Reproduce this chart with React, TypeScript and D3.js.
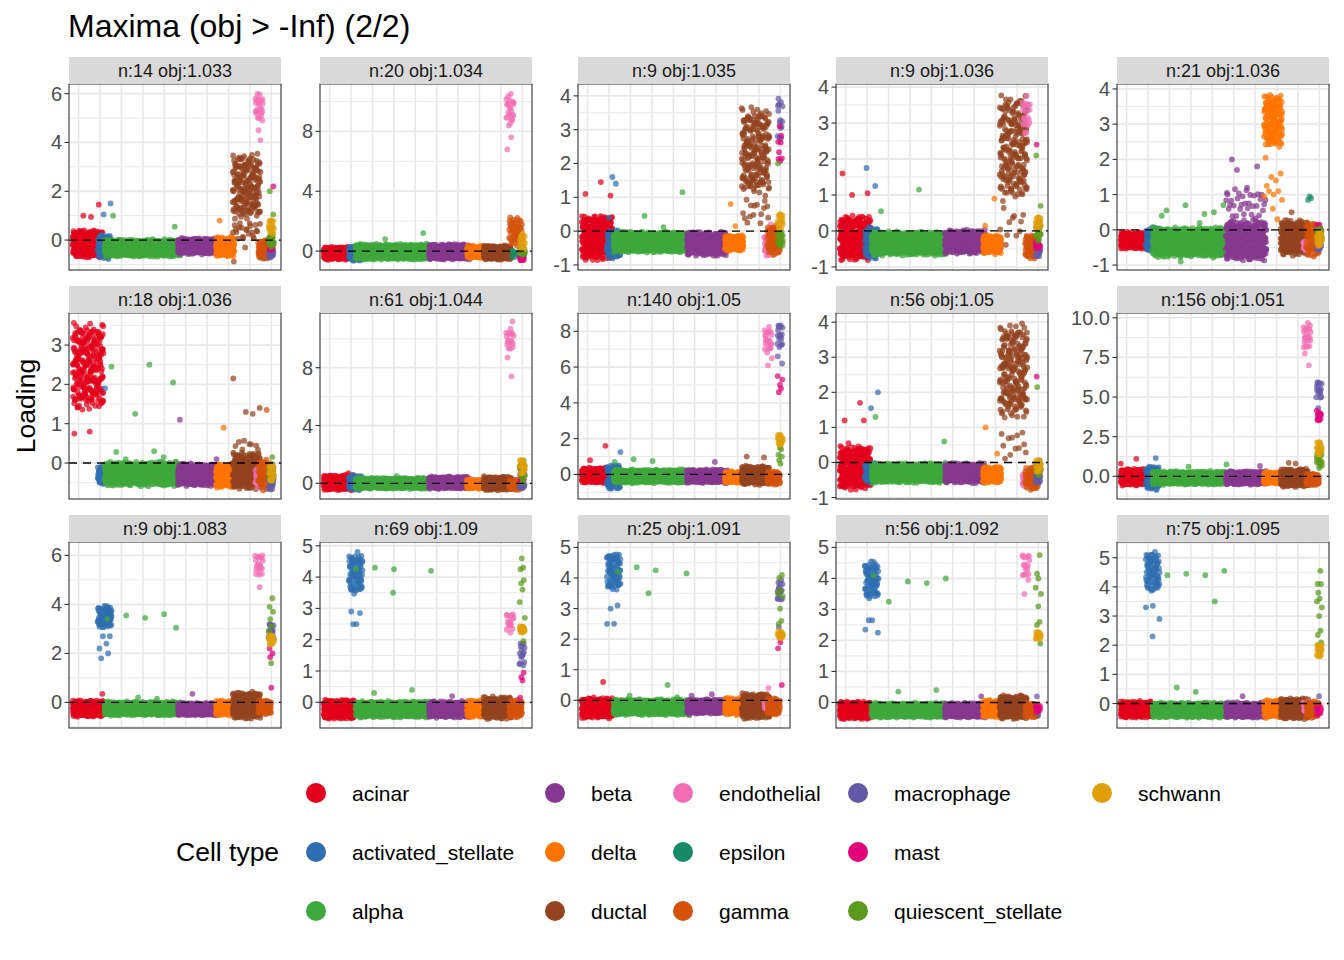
import React, { useRef, useEffect } from "react";
import * as d3 from "d3";

// a band is [lo, hi] (default count for that cell type), [lo, hi, n], or a single value
type Band = number | [number, number] | [number, number, number];

const cellTypes = [
    "acinar", "activated_stellate", "alpha", "beta", "delta", "ductal", "endothelial",
    "epsilon", "gamma", "macrophage", "mast", "quiescent_stellate", "schwann"
];
const typeColors = [
    "#E3001B", "#2E6DB0", "#3FA83C", "#86378F", "#FF7300", "#93431F", "#F36DB4",
    "#168A66", "#D4520A", "#6459A6", "#E0007A", "#5A9A1C", "#E09E08"
];
// position of each cell type along the (cell order) x axis, 0..1, and its jitter half-width
const typeCenter = [0.049, 0.135, 0.331, 0.62, 0.76, 0.871, 0.936, 0.957, 0.965, 0.998, 0.998, 1.0, 1.0];
const typeSpread = [0.08, 0.036, 0.197, 0.105, 0.048, 0.072, 0.02, 0.016, 0.034, 0.014, 0.012, 0.014, 0.014];
const baseCounts = [280, 80, 620, 340, 150, 240, 30, 8, 65, 16, 12, 18, 16];

const facetLabels = [
    "n:14 obj:1.033", "n:20 obj:1.034", "n:9 obj:1.035", "n:9 obj:1.036", "n:21 obj:1.036",
    "n:18 obj:1.036", "n:61 obj:1.044", "n:140 obj:1.05", "n:56 obj:1.05", "n:156 obj:1.051",
    "n:9 obj:1.083", "n:69 obj:1.09", "n:25 obj:1.091", "n:56 obj:1.092", "n:75 obj:1.095"
];
const facetTicks = [
    [0, 2, 4, 6], [0, 4, 8], [-1, 0, 1, 2, 3, 4], [-1, 0, 1, 2, 3, 4], [-1, 0, 1, 2, 3, 4],
    [0, 1, 2, 3], [0, 4, 8], [0, 2, 4, 6, 8], [-1, 0, 1, 2, 3, 4], [0, 2.5, 5, 7.5, 10],
    [0, 2, 4, 6], [0, 1, 2, 3, 4, 5], [0, 1, 2, 3, 4, 5], [0, 1, 2, 3, 4, 5], [0, 1, 2, 3, 4, 5]
];

const panel01: Band[][] = [
    [[-0.75, 0.45], 0.95, 1.0, 1.45],
    [[-0.8, 0.25], 1.05, 1.5],
    [[-0.7, 0.05], 0.55, 1.0],
    [[-0.6, 0.1]],
    [[-0.7, 0.15], 0.15, 0.8],
    [[0.8, 3.6, 190], [0.0, 0.8, 22], -0.3, -0.5, -0.88],
    [[4.9, 6.05, 22], 4.1, 4.5, 4.9],
    [[-0.75, -0.6]],
    [[-0.8, 0.05]],
    [[-0.75, -0.4]],
    [[-0.5, 0.2], 2.2],
    [[-0.3, 0.3], 0.5, 1.05, 2.0],
    [[0.2, 0.9]],
];
const panel02: Band[][] = [
    [[-0.6, 0.3]],
    [[-0.7, 0.4]],
    [[-0.6, 0.5], 0.8, 1.2],
    [[-0.6, 0.5]],
    [[-0.5, 0.4]],
    [[-0.6, 0.4]],
    [[8.3, 10.6, 22], 6.8, 7.6],
    [[-0.5, 0.1]],
    [[0.3, 2.3, 50]],
    [[-0.5, 0.1]],
    [[-0.7, -0.2]],
    [[-0.3, 0.3]],
    [[0.0, 1.3]],
];
const panel03: Band[][] = [
    [[-0.9, 0.5], 1.05, 1.1, 1.45],
    [[-0.85, 0.05], 0.4, 1.4, 1.6],
    [[-0.65, 0.0], 0.12, 0.45, 1.15],
    [[-0.75, 0.0]],
    [[-0.6, -0.1], 0.15, 0.8],
    [[1.0, 3.75, 210], [0.2, 1.0, 15]],
    [[-0.75, -0.1], 0.2],
    [[-0.6, -0.3]],
    [[-0.75, 0.2]],
    [[2.6, 4.1, 14]],
    [[1.75, 3.3, 8]],
    [[-0.5, 0.0], 2.0],
    [[0.0, 0.6]],
];
const panel04: Band[][] = [
    [[-0.85, 0.45], 1.0, 1.05, 1.6],
    [[-0.8, 0.15], 1.25, 1.75],
    [[-0.7, 0.0], 0.55, 1.15],
    [[-0.65, 0.05]],
    [[-0.65, -0.1], 0.15, 0.9],
    [[0.8, 3.85, 210], [-0.5, 0.7, 12]],
    [[2.6, 3.8, 20]],
    [[-0.5, -0.4]],
    [[-0.8, -0.1]],
    [[-0.75, -0.3]],
    [[-0.5, -0.3], 2.4],
    [[-0.3, 0.3], 0.7, 2.1],
    [[0.0, 0.45]],
];
const panel05: Band[][] = [
    [[-0.55, -0.05]],
    [[-0.65, 0.1]],
    [[-0.8, 0.1], 0.5, 0.55, 0.45, 0.7, 0.7, 0.4, 0.2, -0.9],
    [[-0.9, 0.3], [0.3, 1.2, 30], 0.75, 0.85, 1.05, 1.2, 1.7, 1.8, 2.0],
    [[2.3, 3.9, 140], 0.3, 0.6, 0.85, 0.95, 1.0, 1.1, 1.1, 1.25, 1.4, 1.5, 1.6, 2.05],
    [[-0.75, 0.3], 0.5],
    [[-0.6, -0.3]],
    [0.85, 0.9, 0.95],
    [[-0.8, 0.25]],
    [[-0.6, -0.2]],
    [[-0.3, 0.2]],
    [[-0.4, 0.1]],
    [[-0.5, 0.0]],
];
const panel06: Band[][] = [
    [[1.3, 3.6, 260], 0.75, 0.8],
    [[-0.55, -0.05], 1.9],
    [[-0.6, 0.05], 0.1, 0.15, 0.28, 0.3, 1.25, 2.05, 2.45, 2.5],
    [[-0.6, 0.0], 0.1, 1.1],
    [[-0.65, 0.0], 0.9],
    [[-0.7, 0.3], [0.3, 0.6, 8], 1.25, 1.3, 1.4, 2.15],
    [[-0.65, -0.1]],
    [-0.5],
    [[-0.7, 0.1], 1.35],
    [[-0.7, -0.3]],
    [[-0.5, 0.0]],
    [[-0.5, 0.0], 0.15],
    [[-0.5, 0.0]],
];
const panel07: Band[][] = [
    [[-0.5, 0.6], 0.7],
    [[-0.5, 0.6]],
    [[-0.4, 0.4], 0.5],
    [[-0.4, 0.5]],
    [[-0.4, 0.3]],
    [[-0.5, 0.5]],
    [[9.2, 10.8, 18], 11.2, 8.7, 7.4],
    [[-0.3, 0.0]],
    [[-0.5, 0.3]],
    [[-0.35, 0.0]],
    [[0.0, 1.2]],
    [[0.0, 1.6]],
    [[0.5, 1.8]],
];
const panel08: Band[][] = [
    [[-0.5, 0.4], 0.8, 1.6],
    [[-0.9, 0.6], 1.25],
    [[-0.5, 0.3], 0.7, 0.75, 0.85],
    [[-0.5, 0.3], 0.7],
    [[-0.5, 0.2]],
    [[-0.6, 0.5], 0.95, 1.0],
    [[6.8, 8.3, 22], 6.1, 6.5],
    [[-0.3, 0.0]],
    [[-0.6, 0.2]],
    [[7.0, 8.55, 16], 6.2, 6.6],
    [4.6, 4.8, 5.0, 5.3, 5.5],
    [0.6, 0.8, 1.0, 1.1, 1.4, 1.5],
    [[1.6, 2.3]],
];
const panel09: Band[][] = [
    [[-0.8, 0.5], 0.35, 0.55, 1.2, 1.2, 1.7],
    [[-0.6, 0.0], 1.55, 2.0],
    [[-0.6, 0.0], 0.6, 1.3],
    [[-0.6, 0.0]],
    [[-0.6, -0.1], 0.25, 1.0],
    [[1.2, 4.02, 210], [0.05, 1.0, 12]],
    [[-0.7, -0.3]],
    [-0.5],
    [[-0.8, -0.1]],
    [[-0.6, -0.3]],
    [-0.3, 2.45],
    [[-0.4, 0.1], 2.15],
    [[-0.3, 0.1]],
];
const panel10: Band[][] = [
    [[-0.6, 0.5], 0.8, 1.1],
    [[-0.9, 0.7], 1.15],
    [[-0.55, 0.35], 0.6, 0.75],
    [[-0.55, 0.35], 0.65],
    [[-0.5, 0.3]],
    [[-0.7, 0.5], 0.8, 0.85],
    [[8.0, 9.77, 22], 7.75, 7.0],
    [[-0.2, 0.0]],
    [[-0.6, 0.2]],
    [[4.8, 6.2, 16], 3.9, 4.3],
    [[3.4, 4.2]],
    [[0.5, 1.7]],
    [[1.2, 2.3]],
];
const panel11: Band[][] = [
    [[-0.6, 0.1], 0.35],
    [[3.0, 4.0, 70], 1.8, 2.0, 2.2, 2.4, 2.7, 2.7],
    [[-0.55, 0.05], 0.15, 0.2, 3.05, 3.4, 3.45, 3.55, 3.6],
    [[-0.55, 0.0], 0.35],
    [[-0.55, 0.1]],
    [[-0.7, 0.45]],
    [[5.1, 6.2, 20], 4.7],
    [-0.3],
    [[-0.5, 0.1]],
    [[2.5, 3.3]],
    [0.6, 1.85, 2.0, 2.2],
    [1.6, 2.6, 2.9, 3.1, 3.4, 3.7, 3.9, 4.25],
    [[2.3, 2.8]],
];
const panel12: Band[][] = [
    [[-0.55, 0.1]],
    [[3.45, 4.85, 70], 2.5, 2.5, 2.85, 2.9],
    [[-0.5, 0.05], 0.3, 0.4, 3.5, 4.2, 4.25, 4.25, 4.3],
    [[-0.5, 0.05], 0.2],
    [[-0.5, 0.1]],
    [[-0.55, 0.2]],
    [[2.2, 2.9, 16]],
    [-0.3],
    [[-0.5, 0.1]],
    [[1.1, 2.0]],
    [0.15, 0.7, 0.8, 0.95],
    [1.95, 2.4, 2.7, 3.2, 3.6, 3.8, 3.9, 4.25, 4.3, 4.6],
    [[2.2, 2.45]],
];
const panel13: Band[][] = [
    [[-0.6, 0.1], 0.6],
    [[3.55, 4.9, 70], 2.5, 2.5, 3.0, 3.1],
    [[-0.5, 0.05], 0.1, 0.15, 0.5, 3.5, 4.15, 4.2, 4.25, 4.35],
    [[-0.45, 0.05], 0.15, 0.2],
    [[-0.5, 0.1]],
    [[-0.63, 0.25]],
    [[-0.3, 0.0], 0.4],
    [-0.3],
    [[-0.5, 0.1]],
    [[3.2, 4.0], 2.4],
    [0.5, 1.7, 1.9],
    [2.5, 2.6, 3.0, 3.4, 3.5, 3.6, 4.0, 4.1],
    [[2.0, 2.3]],
];
const panel14: Band[][] = [
    [[-0.55, 0.05]],
    [[3.3, 4.6, 70], 2.25, 2.35, 2.65, 2.65],
    [[-0.5, 0.0], 0.35, 0.4, 3.25, 3.85, 3.9, 4.0, 4.1],
    [[-0.5, 0.0], 0.2],
    [[-0.5, 0.1]],
    [[-0.55, 0.25]],
    [[4.0, 4.9, 16], 3.5, 3.95],
    [-0.3],
    [[-0.5, 0.0]],
    [-0.4, 0.2],
    [[-0.3, -0.1]],
    [1.9, 2.5, 2.6, 3.1, 3.5, 3.7, 4.0, 4.15, 4.75],
    [[2.0, 2.3]],
];
const panel15: Band[][] = [
    [[-0.5, 0.1]],
    [[3.8, 5.25, 70], 2.3, 2.9, 3.3, 3.35],
    [[-0.5, 0.05], 0.4, 0.55, 3.5, 4.4, 4.4, 4.45, 4.55],
    [[-0.5, 0.05], 0.25],
    [[-0.5, 0.15]],
    [[-0.55, 0.2]],
    [[-0.3, 0.1]],
    [-0.3],
    [[-0.5, 0.1]],
    [-0.2, 0.25],
    [[-0.4, -0.1]],
    [2.0, 2.1, 2.35, 2.5, 3.0, 3.3, 3.5, 3.6, 3.8, 4.1, 4.1, 4.55],
    [[1.55, 2.05]],
];

const facets = [
    panel01, panel02, panel03, panel04, panel05, panel06, panel07, panel08,
    panel09, panel10, panel11, panel12, panel13, panel14, panel15
];

const FONT = "'Liberation Sans', Arial, Helvetica, sans-serif";

type Pt = { x: number; y: number; t: number };

// deterministic low-discrepancy spread for the jitter
function halton(i: number, b: number) {
    let f = 1, r = 0;
    while (i > 0) {
        f /= b;
        r += f * (i % b);
        i = Math.floor(i / b);
    }
    return r;
}

function buildPoints(bands: Band[][], fi: number) {
    const pts: Pt[] = [];
    const ys: number[] = [];
    bands.forEach((list, t) => {
        let seed = fi * 7919 + t * 613 + 1;
        list.forEach(b => {
            let lo: number, hi: number, n: number;
            if (typeof b === "number") {
                lo = b; hi = b; n = 1;
            } else {
                lo = b[0]; hi = b[1]; n = b.length > 2 ? (b as number[])[2] : baseCounts[t];
            }
            ys.push(lo, hi);
            for (let j = 0; j < n; j++) {
                const idx = seed + j;
                const u = 0.85 * halton(idx, 3) + 0.15 * halton(idx, 5);
                const y = n === 1 ? lo : lo + (hi - lo) * u;
                const x = typeCenter[t] + typeSpread[t] * (2 * halton(idx, 2) - 1);
                pts.push({ x, y, t });
            }
            seed += n;
        });
    });
    return { pts, extent: d3.extent(ys) as [number, number] };
}

const colX = [69, 320, 578, 836, 1117];
const rowY = [57, 286, 515];
const stripH = 27;
const panelW = 212;
const panelH = 186;

const App: React.FC = () => {
    const svgRef = useRef<SVGSVGElement | null>(null);

    useEffect(() => {
        document.body.style.margin = "0";
        if (!svgRef.current) return;
        const svg = d3.select(svgRef.current);
        svg.selectAll("*").remove();

        svg.append("rect").attr("width", 1344).attr("height", 960).attr("fill", "white");

        svg.append("text")
            .attr("x", 68).attr("y", 37)
            .attr("font-size", 32)
            .attr("fill", "black")
            .text("Maxima (obj > -Inf) (2/2)");

        svg.append("text")
            .attr("transform", "translate(26,406) rotate(-90)")
            .attr("text-anchor", "middle")
            .attr("dominant-baseline", "central")
            .attr("font-size", 26.5)
            .attr("fill", "black")
            .text("Loading");

        const x = d3.scaleLinear().domain([-0.05, 1.05]).range([0, panelW]);

        facets.forEach((bands, fi) => {
            const col = fi % 5;
            const row = Math.floor(fi / 5);
            const { pts, extent } = buildPoints(bands, fi);
            const pad = (extent[1] - extent[0]) * 0.05;
            const y = d3.scaleLinear()
                .domain([extent[0] - pad, extent[1] + pad])
                .range([panelH, 0]);

            const g = svg.append("g")
                .attr("transform", `translate(${colX[col]},${rowY[row] + stripH})`);

            g.append("rect").attr("width", panelW).attr("height", panelH).attr("fill", "white");

            // -----------------------------
            // grid
            // -----------------------------
            const ticks = facetTicks[fi];
            const step = ticks[1] - ticks[0];
            const [d0, d1] = y.domain();
            const minors: number[] = [];
            for (let v = ticks[0] - step / 2; v <= d1; v += step) {
                if (v >= d0) minors.push(v);
            }
            g.selectAll(".minor-h").data(minors).enter().append("line")
                .attr("x1", 0).attr("x2", panelW)
                .attr("y1", d => y(d)).attr("y2", d => y(d))
                .attr("stroke", "#E8E8E8").attr("stroke-width", 1.0);
            g.selectAll(".major-h").data(ticks).enter().append("line")
                .attr("x1", 0).attr("x2", panelW)
                .attr("y1", d => y(d)).attr("y2", d => y(d))
                .attr("stroke", "#E8E8E8").attr("stroke-width", 1.8);
            const vLines = d3.range(10).map(k => k / 9);
            g.selectAll(".grid-v").data(vLines).enter().append("line")
                .attr("x1", d => x(d)).attr("x2", d => x(d))
                .attr("y1", 0).attr("y2", panelH)
                .attr("stroke", "#E8E8E8")
                .attr("stroke-width", 1.6);

            // -----------------------------
            // points
            // -----------------------------
            g.append("g").selectAll("circle")
                .data(pts)
                .enter()
                .append("circle")
                .attr("cx", d => x(d.x))
                .attr("cy", d => y(d.y))
                .attr("r", 2.9)
                .attr("fill", d => typeColors[d.t])
                .attr("opacity", 0.72);

            g.append("line")
                .attr("x1", 0).attr("x2", panelW)
                .attr("y1", y(0)).attr("y2", y(0))
                .attr("stroke", "black")
                .attr("stroke-width", 1.3)
                .attr("stroke-dasharray", "8,6");

            g.append("rect")
                .attr("width", panelW).attr("height", panelH)
                .attr("fill", "none")
                .attr("stroke", "#333333")
                .attr("stroke-width", 1.1);

            // strip
            g.append("rect")
                .attr("y", -stripH).attr("width", panelW).attr("height", stripH)
                .attr("fill", "#D9D9D9");
            g.append("text")
                .attr("x", panelW / 2).attr("y", -stripH / 2)
                .attr("text-anchor", "middle")
                .attr("dominant-baseline", "central")
                .attr("font-size", 18)
                .attr("fill", "#1A1A1A")
                .text(facetLabels[fi]);

            // y axis
            const decimals = ticks.some(v => !Number.isInteger(v)) ? 1 : 0;
            const axis = g.append("g");
            axis.selectAll("line").data(ticks).enter().append("line")
                .attr("x1", -4.5).attr("x2", 0)
                .attr("y1", d => y(d)).attr("y2", d => y(d))
                .attr("stroke", "#333333").attr("stroke-width", 1.1);
            axis.selectAll("text").data(ticks).enter().append("text")
                .attr("x", -7)
                .attr("y", d => y(d))
                .attr("text-anchor", "end")
                .attr("dominant-baseline", "central")
                .attr("font-size", 20)
                .attr("fill", "#4D4D4D")
                .text(d => d.toFixed(decimals));
        });

        // -----------------------------
        // legend
        // -----------------------------
        const keyX = [316, 555, 683, 858, 1102];
        const keyY = [793, 852, 911];
        svg.append("text")
            .attr("x", 176).attr("y", 852)
            .attr("dominant-baseline", "central")
            .attr("font-size", 26.5)
            .attr("fill", "black")
            .text("Cell type");
        const items = svg.append("g").selectAll("g")
            .data(cellTypes)
            .enter()
            .append("g")
            .attr("transform", (_, i) => `translate(${keyX[Math.floor(i / 3)]},${keyY[i % 3]})`);
        items.append("circle")
            .attr("r", 10)
            .attr("fill", (_, i) => typeColors[i]);
        items.append("text")
            .attr("x", 36)
            .attr("dominant-baseline", "central")
            .attr("font-size", 21)
            .attr("fill", "black")
            .text(d => d);
    }, []);

    return (
        <svg
            ref={svgRef}
            width={1344}
            height={960}
            style={{ display: "block", fontFamily: FONT }}
        />
    );
};

export default App;
